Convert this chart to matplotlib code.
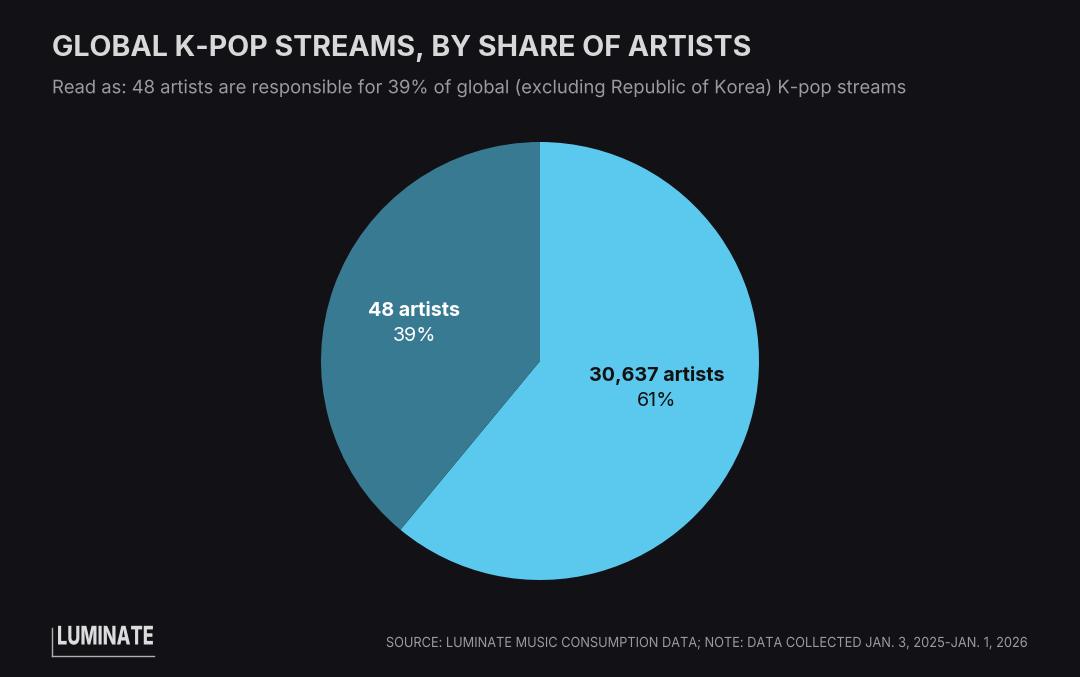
import matplotlib
matplotlib.use("Agg")
import matplotlib.pyplot as plt
from matplotlib.lines import Line2D
from matplotlib.patheffects import AbstractPathEffect
from matplotlib.transforms import Affine2D

# Data
categories = ["30,637 artists", "48 artists"]
shares = [61, 39]
pct_labels = ["61%", "39%"]
colors = ["#5BC8EE", "#397A93"]
title = "GLOBAL K-POP STREAMS, BY SHARE OF ARTISTS"
subtitle = "Read as: 48 artists are responsible for 39% of global (excluding Republic of Korea) K-pop streams"
source = "SOURCE: LUMINATE MUSIC CONSUMPTION DATA; NOTE: DATA COLLECTED JAN. 3, 2025-JAN. 1, 2026"

BG = "#121116"
plt.rcParams['font.family'] = ['Inter', 'DejaVu Sans']

W, H = 1080, 677
fig = plt.figure(figsize=(W / 100, H / 100), dpi=100, facecolor=BG)


class Squeeze(AbstractPathEffect):
    """Horizontally condense text glyphs about a fixed x (display px)."""
    def __init__(self, sx, x0):
        super().__init__()
        self.sx = sx
        self.x0 = x0

    def draw_path(self, renderer, gc, tpath, affine, rgbFace=None):
        t = affine + Affine2D().translate(-self.x0, 0).scale(self.sx, 1).translate(self.x0, 0)
        renderer.draw_path(gc, tpath, t, rgbFace)


cx, cy, r = 540, 361, 219
ax = fig.add_axes([(cx - r) / W, (H - cy - r) / H, 2 * r / W, 2 * r / H])
ax.set_facecolor(BG)
ax.pie(shares, colors=colors, startangle=90, counterclock=False, radius=1,
       wedgeprops=dict(linewidth=0))
ax.set_xlim(-1, 1)
ax.set_ylim(-1, 1)
ax.set_aspect('equal')
ax.axis('off')

# labels
label_pos = [(0.534, -0.125), (-0.575, 0.17)]
label_col = ["#111111", "#ffffff"]
for cat, pct, (x, y), c in zip(categories, pct_labels, label_pos, label_col):
    ax.text(x, y + 0.057, cat, ha='center', va='center', fontsize=14.2,
            fontweight='bold', color=c)
    ax.text(x, y - 0.057, pct, ha='center', va='center', fontsize=14.2,
            color=c)

fig.text(52 / W, 1 - 48 / H, title, ha='left', va='center', fontsize=20.6,
         fontweight='bold', color="#D8D8D8")
fig.text(52 / W, 1 - 88 / H, subtitle, ha='left', va='center', fontsize=13.35,
         color="#9B9B9F", path_effects=[Squeeze(0.991, 52)])
fig.text(1029 / W, 1 - 643 / H, source, ha='right', va='center', fontsize=10,
         color="#9B9B9F", path_effects=[Squeeze(0.92, 1029)])

# Logo
fig.text(57 / W, 1 - 638 / H, "LUMINATE", ha='left', va='center', fontsize=18.5,
         fontweight='heavy', color="#DCDCDC", path_effects=[Squeeze(0.705, 57)])
fig.add_artist(Line2D([52 / W, 52 / W], [1 - 628 / H, 1 - 656 / H], color="#B0B0B0", lw=1))
fig.add_artist(Line2D([52 / W, 154 / W], [1 - 656 / H, 1 - 656 / H], color="#B0B0B0", lw=1))

fig.savefig("out.png", dpi=100, facecolor=BG)
